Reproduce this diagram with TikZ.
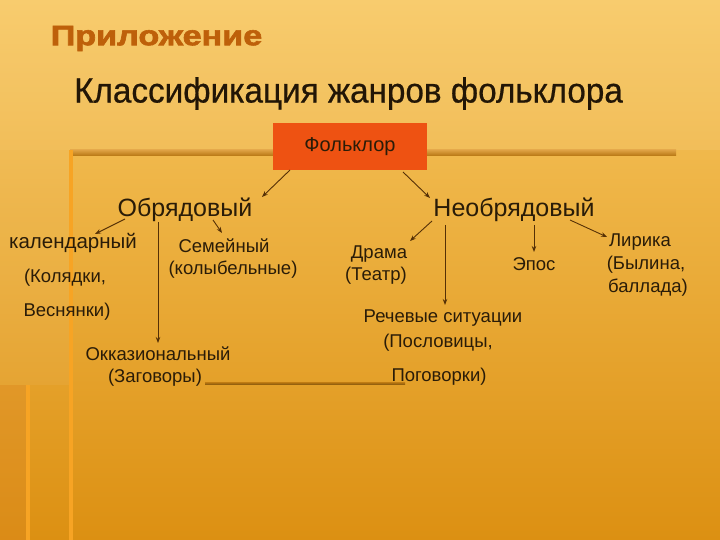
\documentclass[tikz,border=0pt]{standalone}
\usepackage{fontspec}
\setmainfont{Liberation Sans}
\newfontfamily\ttlfam[FakeBold=2]{Liberation Sans Bold}
\newfontfamily\headfam[FakeBold=0.6]{Liberation Sans}
\usetikzlibrary{arrows.meta,shadings,calc}
\definecolor{bgtop}{HTML}{F8C862}
\definecolor{bgbot}{HTML}{DC9012}
\definecolor{txt}{HTML}{2A1C08}
\definecolor{boxfill}{HTML}{EE5212}
\definecolor{ttl}{HTML}{BE600A}
\definecolor{barc}{HTML}{D68A14}
\definecolor{vline}{HTML}{F7A424}
\tikzset{
  lbl/.style={text=txt,inner sep=0pt,anchor=center},
  big/.style={lbl,font=\fontsize{25bp}{29bp}\selectfont},
  mid/.style={lbl,font=\fontsize{20.5bp}{24bp}\selectfont},
  sml/.style={lbl,font=\fontsize{18.5bp}{22bp}\selectfont},
  arr/.style={draw=txt!80!orange,line width=0.9bp,-{Stealth[length=6bp,width=4.5bp]}},
}
\begin{document}
\begin{tikzpicture}[x=1bp,y=-1bp]
\useasboundingbox (0,0) rectangle (720,540);
% background
\shade[top color=bgtop,bottom color=bgbot] (0,0) rectangle (720,540);
\fill[white,opacity=0.08] (0,0) rectangle (720,150);
\fill[brown!60!orange,opacity=0.25] (0,385) rectangle (27,540);
\fill[white,opacity=0.05] (0,150) rectangle (70,385);
% decorative lines
\shade[top color=barc!80!white,bottom color=barc!85!black] (70,150) rectangle (676,156);
\fill[vline] (69,150) rectangle (73,540);
\fill[vline] (26,385) rectangle (30,540);
\shade[top color=barc!90!black,bottom color=barc!65!black] (205,382) rectangle (405,384.5);
% titles
\node[lbl,text=ttl,font=\ttlfam\fontsize{28bp}{30bp}\selectfont] (t1) at (156.5,38.5) {\scalebox{1.22}[1]{Приложение}};
\node[lbl,text=txt!80!black,font=\headfam\fontsize{35bp}{40bp}\selectfont] (t2) at (348.5,93.5) {\scalebox{0.95}[1]{Классификация жанров фольклора}};
% root
\node[fill=boxfill,minimum width=154bp,minimum height=47bp,inner sep=0pt,text=txt,font=\fontsize{20bp}{24bp}\selectfont] (folk) at (350,147) {Фольклор};
% level 1
\node[big] (obr) at (185,210) {Обрядовый};
\node[big] (neobr) at (514,210) {Необрядовый};
% children of obr
\node[mid] (kal) at (73,243) {календарный};
\node[sml] (kal2) at (65,278) {(Колядки,};
\node[sml] (kal3) at (67,312) {Веснянки)};
\node[sml] (sem) at (224,246) {Семейный};
\node[sml] (sem2) at (233,270) {(колыбельные)};
\node[sml] (okk) at (158,354) {Окказиональный};
\node[sml] (okk2) at (155,378) {(Заговоры)};
% children of neobr
\node[sml] (dr) at (379,254) {Драма};
\node[sml] (dr2) at (376,276) {(Театр)};
\node[sml] (epos) at (534,264) {Эпос};
\node[sml] (lir) at (640,242) {Лирика};
\node[sml] (lir2) at (646,265) {(Былина,};
\node[sml] (lir3) at (648,288) {баллада)};
\node[sml] (rech) at (443,318) {Речевые ситуации};
\node[sml] (rech2) at (438,343) {(Пословицы,};
\node[sml] (rech3) at (439,377) {Поговорки)};
% connectors
\draw[arr] ($(folk)+(-60,23)$) -- ($(obr)+(77,-13)$);
\draw[arr] ($(folk)+(53,25)$) -- ($(neobr)+(-84,-12)$);
\draw[arr] ($(obr)+(-60,9)$) -- ($(kal)+(22,-9)$);
\draw[arr] ($(obr)+(-27,12)$) -- ($(okk)+(0,-11)$);
\draw[arr] ($(obr)+(28,10)$) -- ($(sem)+(-2,-13)$);
\draw[arr] ($(neobr)+(-82,11)$) -- ($(dr)+(31,-13)$);
\draw[arr] ($(neobr)+(-69,15)$) -- ($(rech)+(2,-13)$);
\draw[arr] ($(neobr)+(20,15)$) -- ($(epos)+(0,-12)$);
\draw[arr] ($(neobr)+(56,10)$) -- ($(lir)+(-33,-5)$);
\end{tikzpicture}
\end{document}
